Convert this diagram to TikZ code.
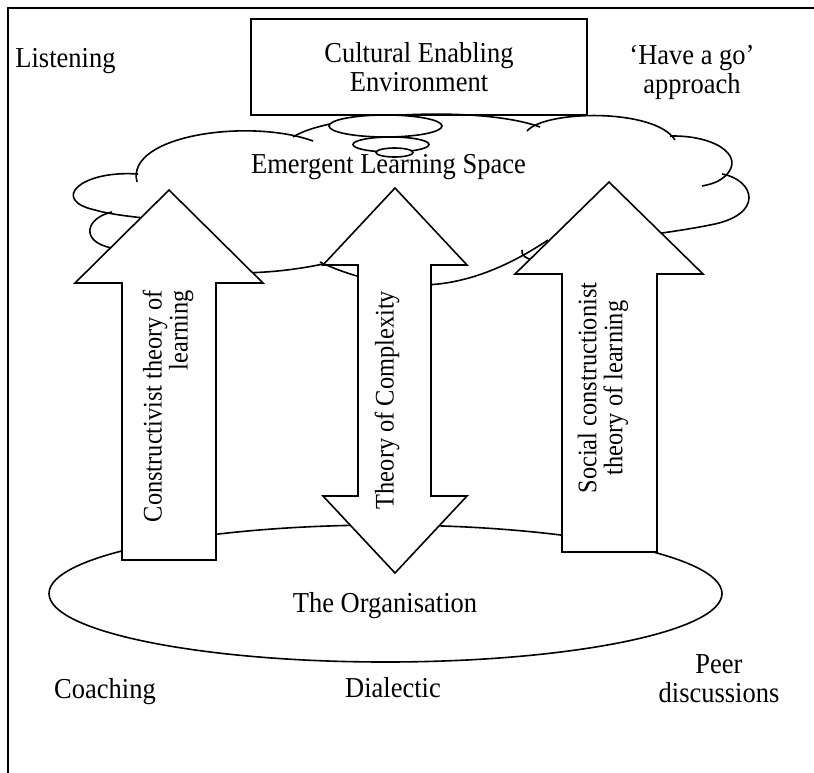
\documentclass[tikz,border=0pt]{standalone}
\usepackage{fontspec}
\usepackage{graphicx}
\setmainfont{Liberation Serif}
\newcommand{\hfnt}{\fontsize{13.25pt}{14.5pt}\selectfont}
\newcommand{\vfnt}{\fontsize{12.2pt}{13pt}\selectfont}
\newcommand{\hs}[1]{\scalebox{1}[1.09]{#1}}
\newcommand{\vs}[1]{\scalebox{1}[1.1]{#1}}
\begin{document}
\begin{tikzpicture}[x=0.5pt,y=-0.5pt,
  frameline/.style={line width=1pt},
  cloudline/.style={line width=0.8pt},
  bubble/.style={draw, fill=white, line width=0.8pt},
  arrowshape/.style={draw, fill=white, line width=0.8pt, line join=miter},
  htext/.style={font=\hfnt, inner sep=0pt},
  vtext/.style={font=\vfnt, inner sep=0pt, rotate=90}]
\useasboundingbox (0,0) rectangle (814,772);
% frame
\draw[frameline] (816,8) -- (8,8) -- (8,774);
% top box
\node (cee) [draw, line width=0.8pt, minimum width=168pt, minimum height=48pt,
  align=center, font=\hfnt, inner sep=0pt] at (419,67) {\hs{Cultural Enabling}\\\hs{Environment}};
% cloud lobes
\draw[cloudline] (137,182) .. controls (125,135) and (250,118) .. (313,141);
\draw[cloudline] (138,174) .. controls (80,170) and (50,200) .. (95,210) .. controls (115,216) and (150,218) .. (175,222);
\draw[cloudline] (112,212) .. controls (85,218) and (80,242) .. (112,248) .. controls (118,249) and (122,250) .. (128,252);
\draw[cloudline] (200,270) .. controls (240,276) and (290,272) .. (332,262);
\draw[cloudline] (320,262) .. controls (345,274) and (380,285) .. (420,285) .. controls (470,285) and (515,262) .. (548,240);
\draw[cloudline] (522,250) .. controls (521,255) and (525,259) .. (540,262);
\draw[cloudline] (293,137) .. controls (330,113) and (480,105) .. (540,127);
\draw[cloudline] (527,131) .. controls (545,110) and (655,108) .. (675,140);
\draw[cloudline] (670,136) .. controls (720,135) and (750,160) .. (720,180) .. controls (715,183) and (708,185) .. (702,186);
\draw[cloudline] (722,174) .. controls (755,180) and (765,215) .. (710,225) .. controls (690,229) and (670,232) .. (640,236);
% thought bubbles
\path[bubble] (385.5,126) ellipse [x radius=28.25pt, y radius=5.5pt];
\path[bubble] (391,144.5) ellipse [x radius=19pt, y radius=3.75pt];
\path[bubble] (394.5,152.5) ellipse [x radius=9.25pt, y radius=2.25pt];
\node (els) [htext, anchor=base] at (388.5,173) {\hs{Emergent Learning Space}};
% organisation ellipse
\draw[cloudline] (385.5,593.5) ellipse [x radius=168.25pt, y radius=34.25pt];
% arrows
\path[arrowshape] (169,190) -- (263,283) -- (216,283) -- (216,560) -- (122,560) -- (122,283) -- (75,283) -- cycle;
\path[arrowshape] (395,188) -- (467,265) -- (431,265) -- (431,496) -- (467,496) -- (395,573) -- (323,496) -- (358,496) -- (358,265) -- (323,265) -- cycle;
\path[arrowshape] (609,182) -- (703,274) -- (657,274) -- (657,552) -- (562,552) -- (562,274) -- (515,274) -- cycle;
% arrow texts
\node (t1) [vtext, align=right, anchor=east] at (168,290) {\vs{Constructivist theory of}\\\vs{learning}};
\node (t2) [vtext] at (387,400) {\vs{Theory of Complexity}};
\node (t3) [vtext, align=center] at (603,388) {\vs{Social constructionist}\\\vs{theory of learning}};
% outside texts
\node (org) [htext, anchor=base] at (385,612) {\hs{The Organisation}};
\node (listen) [htext, anchor=base west] at (15,67) {\hs{Listening}};
\node (hago) [htext, anchor=base] at (692,64) {\hs{`Have a go'}};
\node (appr) [htext, anchor=base] at (692,93) {\hs{approach}};
\node (coach) [htext, anchor=base] at (105,698) {\hs{Coaching}};
\node (dial) [htext, anchor=base] at (393,697) {\hs{Dialectic}};
\node (peer) [htext, anchor=base] at (719,673) {\hs{Peer}};
\node (disc) [htext, anchor=base] at (719,702) {\hs{discussions}};
\end{tikzpicture}
\end{document}
